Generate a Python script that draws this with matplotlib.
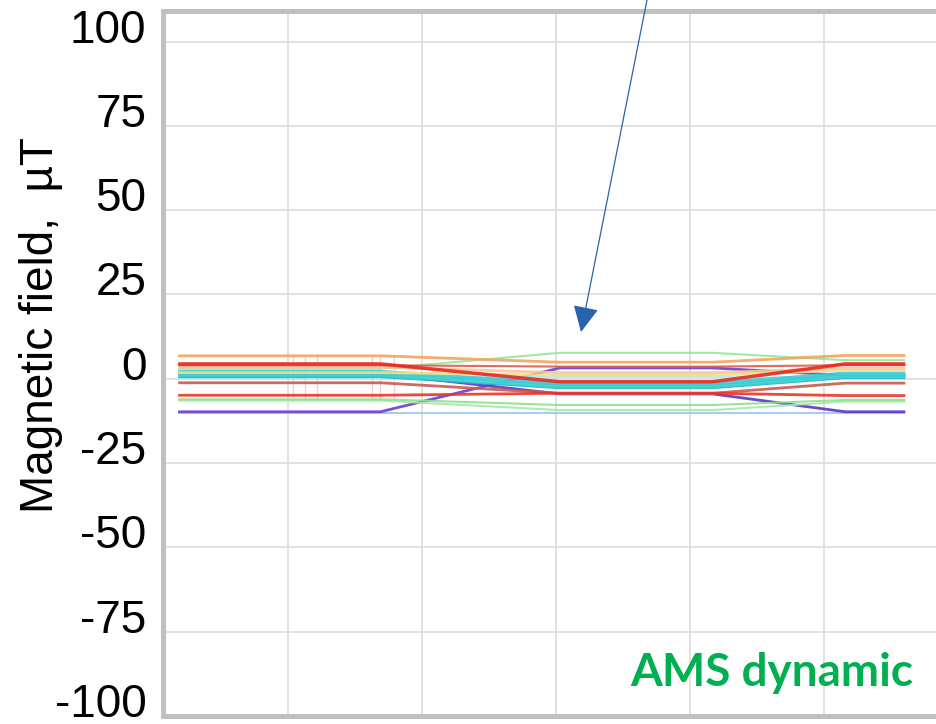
import matplotlib
matplotlib.use("Agg")
import matplotlib.pyplot as plt
import matplotlib.transforms as mtransforms
import numpy as np

# time knots (arbitrary units, one grid cell = 1): left plateau, ramp, middle plateau, ramp, right plateau
knots = [0.18, 1.69, 3.03, 4.17, 5.16, 5.61]

# field values (uT) on the left plateau, middle plateau and right plateau
left_vals = [6.8, 4.4, 3.4, 3.0, 4.0, 1.8, 2.0, 1.2, 0.6, 0.2, -1.2, -4.9, -6.1, -6.5, -9.8, 1.5, -10.2]
mid_vals = [4.9, -0.9, 1.8, 7.7, 3.6, 1.1, -1.5, -2.2, -2.7, 0.6, -4.3, -4.3, -7.8, -9.3, 3.2, -4.5, -10.2]
right_vals = [6.9, 4.4, 3.1, 5.5, 4.0, 2.5, 1.5, 0.8, 0.3, 0.0, -1.3, -5.0, -6.3, -6.8, 1.0, -9.8, -10.2]
colors = ['#f5a35c', '#e8281e', '#f8c79a', '#98e698', '#e05a50', '#f0e08c', '#40c8d8', '#3cd6cc',
          '#2ab3c9', '#aeeeee', '#c85a50', '#ee3322', '#90e090', '#a8e8a8', '#6a3fd0', '#5b35c8', '#a0c8f0']
widths = [2, 2.5, 2, 1.5, 1.5, 2, 3, 3, 2, 2, 2, 2, 1.5, 1.5, 2, 2, 1.5]

# faint vertical marks on the left plateau
mark_x = [1.04, 1.13, 1.22, 1.63, 1.69, 1.79]

yticks = [100, 75, 50, 25, 0, -25, -50, -75, -100]

fig = plt.figure(figsize=(9.36, 7.24), dpi=100)
ax = fig.add_axes([163/936, 1 - 715.8/724, (1000 - 163)/936, (715.8 - 11)/724])

for m in mark_x:
    ax.vlines(m, -6.5, 7, color='#e8604a', lw=1, alpha=0.3, zorder=2)

order = [16, 15, 14, 13, 12, 10, 11, 9, 8, 7, 6, 5, 3, 2, 4, 0, 1]
for i in order:
    ys = [left_vals[i], left_vals[i], mid_vals[i], mid_vals[i], right_vals[i], right_vals[i]]
    ax.plot(knots, ys, color=colors[i], lw=widths[i], alpha=0.9, zorder=3, solid_capstyle='butt')

ax.set_xlim(0.0665, 6.317)
ax.set_ylim(-100, 109.1)
ax.set_yticks(yticks)
ax.set_yticklabels([str(v) for v in yticks])
ax.set_xticks([1, 2, 3, 4, 5, 6])
ax.tick_params(axis='x', length=0, labelbottom=False)
ax.tick_params(axis='y', length=0, pad=12, labelsize=33)
for lab in ax.get_yticklabels():
    lab.set_family('Liberation Sans')
    lab.set_transform(lab.get_transform() + mtransforms.ScaledTranslation(0, 0.16, fig.dpi_scale_trans))

ax.grid(True, color='#dedede', lw=1.3)
ax.set_axisbelow(True)
for side in ['left', 'top', 'bottom']:
    ax.spines[side].set_color('#c0c0c0')
    ax.spines[side].set_linewidth(3.6)
ax.spines['right'].set_visible(False)

ax.set_ylabel('Magnetic field,  µT', fontsize=33, family='Liberation Sans', va='center')
ax.yaxis.set_label_coords(-0.146, 0.5545)

fig.text(913/936, 1 - 686/724, 'AMS dynamic', color='#00b050', fontsize=33,
         fontweight='bold', family='Lato', ha='right', va='baseline')

# annotation arrow coming from above the crop
ax.annotate('', xy=(581/936, 1 - 332/724), xycoords='figure fraction',
            xytext=(647/936, 1.0), textcoords='figure fraction',
            arrowprops=dict(arrowstyle='-|>,head_length=0.65,head_width=0.32', mutation_scale=25,
                            color='#2a63ad', lw=0.9, shrinkA=0, shrinkB=0))

fig.savefig('out.png', dpi=100)
